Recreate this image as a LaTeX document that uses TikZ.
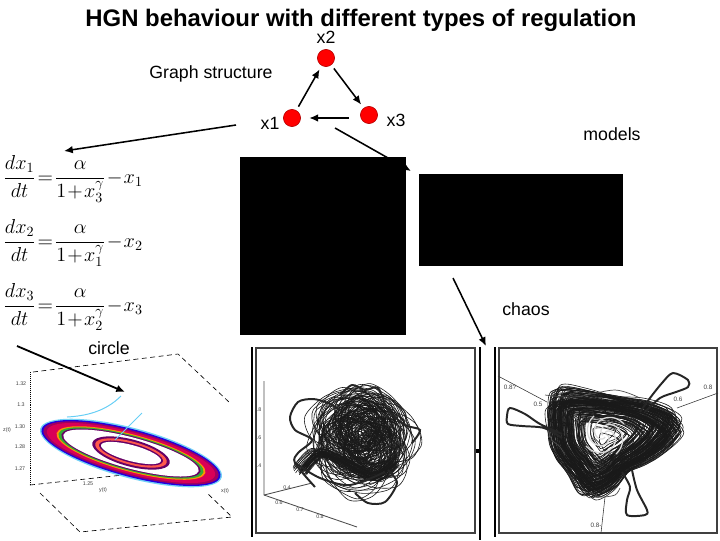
\documentclass[tikz,border=0pt]{standalone}
\usepackage{amsmath,amssymb}
\usepackage{fontspec}
\setmainfont{Liberation Sans}
\usepackage{tikz}
\usetikzlibrary{positioning,arrows.meta,shapes.geometric,calc}
\usepackage{xcolor}

\begin{document}
\begin{tikzpicture}[
  x=0.025cm, y=-0.025cm,
  gene/.style={draw=red!70!black, fill=red, circle, inner sep=0pt, minimum size=12.2pt},
  lbl/.style={font=\fontsize{12.6}{14}\selectfont, inner sep=0pt},
  arr/.style={-{Latex[length=2.2mm,width=1.9mm]}, line width=1.1pt},
  eqn/.style={font=\fontsize{13.6}{15}\selectfont, inner sep=0pt, anchor=west},
  blackbox/.style={fill=black, draw=none},
  frame/.style={draw=black!75, line width=0.9pt},
  tick/.style={font=\fontsize{3.8}{4}\selectfont, inner sep=0pt, text=black!75},
  axisdash/.style={line width=0.45pt, dash pattern=on 3.5pt off 2.5pt},
  tangle/.style={line width=0.42pt, black!90},
  lobe/.style={line width=1.4pt, black!85},
]
  \useasboundingbox (0,0) rectangle (720,540);
  \thickmuskip=1.5mu
  \medmuskip=1mu

  % title and labels
  \node[inner sep=0pt, font=\fontsize{17}{19}\selectfont\bfseries] (title) at (361,20) {HGN behaviour with different types of regulation};
  \node[lbl] (lx2) at (326,37) {x2};
  \node[lbl] (lgraph) at (211,74) {Graph structure};
  \node[lbl] (lx1) at (270,123) {x1};
  \node[lbl] (lx3) at (396,120) {x3};
  \node[lbl] (lmodels) at (612,134) {models};
  \node[lbl] (lchaos) at (526,309) {chaos};
  \node[lbl] (lcircle) at (109,348) {circle};

  % graph
  \node[gene] (x2) at (326,58) {};
  \node[gene] (x1) at (292,118) {};
  \node[gene] (x3) at (369,115) {};
  \draw[arr, shorten <=3pt, shorten >=3pt] (x1) -- (x2);
  \draw[arr, shorten <=3pt, shorten >=3pt] (x2) -- (x3);
  \draw[arr, shorten <=7.8pt, shorten >=6pt] (x3.west |- x1.east) -- (x1.east);

  % free arrows
  \coordinate (a1) at (236,125);
  \coordinate (b1) at (64,151);
  \coordinate (a2) at (335,128);
  \coordinate (b2) at (411,171);
  \coordinate (a3) at (453,278);
  \coordinate (b3) at (486,346);
  \coordinate (a4) at (17,346);
  \coordinate (b4) at (125,392);
  \draw[arr] (a1) -- (b1);
  \draw[arr] (a2) -- (b2);
  \draw[arr] (a3) -- (b3);

  % models
  \node[blackbox, minimum width=117.6pt, minimum height=126.2pt, inner sep=0pt] (m1) at (323,246) {};
  \node[blackbox, minimum width=144.6pt, minimum height=65.2pt, inner sep=0pt] (m2) at (521,220) {};

  % equations
  \node[eqn] (eq1) at (3,179) {$\dfrac{dx_1}{dt}=\dfrac{\alpha}{1+x_3^{\gamma}}-x_1$};
  \node[eqn] (eq2) at (3,243) {$\dfrac{dx_2}{dt}=\dfrac{\alpha}{1+x_1^{\gamma}}-x_2$};
  \node[eqn] (eq3) at (3,307) {$\dfrac{dx_3}{dt}=\dfrac{\alpha}{1+x_2^{\gamma}}-x_3$};

  % circle plot
  \draw[axisdash] (33,372) -- (178,354) -- (230,403);
  \draw[axisdash] (30,485) -- (123,475);
  \draw[axisdash] (40,493) -- (80,532) -- (232,517) -- (207,493);
  \draw[densely dotted, line width=0.4pt] (30,372) -- (30,485);
  \begin{scope}[shift={(131,453)}, rotate=-15]
    \fill[cyan!55] (0,0) ellipse [x radius=94, y radius=25];
    \fill[blue!75!violet] (0,0) ellipse [x radius=92.5, y radius=23.5];
    \fill[violet!75!red] (0,0) ellipse [x radius=90.5, y radius=22];
    \fill[red!60!magenta!85!black] (0,0) ellipse [x radius=87, y radius=20.5];
    \fill[orange!85!yellow] (0,0) ellipse [x radius=77, y radius=18.5];
    \fill[green!60!black!80] (0,0) ellipse [x radius=75, y radius=17.5];
    \fill[violet!80!black] (0,0) ellipse [x radius=72, y radius=16.5];
    \fill[white] (0,0) ellipse [x radius=70, y radius=15.5];
    \fill[violet!80!black] (0,0) ellipse [x radius=40, y radius=13.5];
    \fill[orange!70!magenta] (0,0) ellipse [x radius=37, y radius=11.5];
    \fill[violet!80!black] (0,0) ellipse [x radius=33, y radius=9.5];
    \fill[white] (0,0) ellipse [x radius=31, y radius=8];
  \end{scope}
  \draw[cyan!60, line width=0.7pt] (67,417) .. controls (85,416) and (105,412) .. (121,396);
  \draw[cyan!60, line width=0.7pt] (115,440) -- (142,413);
  \draw[arr, line width=1.3pt] (a4) -- (b4);
  \node[tick] (t1) at (21,384) {1.32};
  \node[tick] (t2) at (21,405) {1.3};
  \node[tick] (t3) at (20,427) {1.30};
  \node[tick] (t4) at (20,447) {1.28};
  \node[tick] (t5) at (20,469) {1.27};
  \node[tick] (t6) at (7,430) {z(t)};
  \node[tick] (t7) at (103,490) {y(t)};
  \node[tick] (t8) at (225,491) {x(t)};
  \node[tick] (t9) at (88,484) {1.25};

  % left chaos plot
  \draw[frame] (256,348) rectangle (475,533);
  \draw[line width=0.9pt] (252,347) -- (252,537);
  \draw[black!70, line width=0.6pt] (264,381) -- (264,495) -- (357,527);
  \draw[black!70, line width=0.6pt] (264,495) -- (312,483);
  \node[tick] at (259,410) {.8};
  \node[tick] at (259,438) {.6};
  \node[tick] at (259,466) {.4};
  \node[tick] at (287,488) {0.4};
  \node[tick] at (279,503) {0.6};
  \node[tick] at (300,510) {0.7};
  \node[tick] at (320,517) {0.8};
  \pgfmathsetseed{7}
  \foreach \k in {1,...,120} {
    \pgfmathsetmacro{\sc}{0.3+0.55*rnd}
    \pgfmathsetmacro{\ang}{rnd*360}
    \pgfmathsetmacro{\dx}{rnd*36-18}
    \pgfmathsetmacro{\dy}{rnd*36-18}
    \draw[tangle, shift={(365+\dx,437+\dy)}, scale=\sc, rotate=\ang]
      plot[smooth cycle] coordinates {(-58,-10) (-30,-38) (12,-48) (44,-24) (50,8) (22,30) (-22,32) (-50,18)};
  }
  \pgfmathsetseed{3}
  \foreach \k in {1,...,40} {
    \pgfmathsetmacro{\dx}{rnd*14-7}
    \pgfmathsetmacro{\dy}{rnd*10-5}
    \draw[tangle, shift={(\dx,\dy)}] plot[smooth] coordinates {(300,470) (318,452) (345,462) (372,476) (392,462)};
  }
  \draw[lobe] plot[smooth] coordinates {(315,487) (295,463) (298,453) (312,440) (295,430) (290,417) (298,402) (313,399) (328,403) (340,410)};
  \draw[lobe] plot[smooth] coordinates {(355,493) (368,503) (385,502) (397,483) (388,470)};
  \draw[lobe] plot[smooth] coordinates {(340,395) (352,385) (365,390) (378,388) (388,410) (405,425) (420,430) (412,443)};
  \draw[lobe] plot[smooth] coordinates {(295,463) (320,478) (350,485) (385,472)};

  % separator
  \draw[line width=0.9pt] (480,347) -- (480,540);
  \fill (475.5,448.5) rectangle (479,452.5);

  % right chaos plot
  \draw[frame] (499,348) rectangle (717,533);
  \draw[line width=0.9pt] (495,347) -- (495,537);
  \draw[black!80, line width=0.4pt] (498,376) -- (547,402);
  \draw[black!80, line width=0.4pt] (677,408) -- (718,393);
  \draw[black!80, line width=0.4pt] (605,497) -- (601,533);
  \node[tick, font=\fontsize{4.5}{5}\selectfont] at (510,387) {0.8?};
  \node[tick, font=\fontsize{4.5}{5}\selectfont] at (538,404) {0.5};
  \node[tick, font=\fontsize{4.5}{5}\selectfont] at (678,399) {0.6};
  \node[tick, font=\fontsize{4.5}{5}\selectfont] at (708,387) {0.8};
  \node[tick, font=\fontsize{4.5}{5}\selectfont] at (596,525) {0.8-};
  \pgfmathsetseed{11}
  \foreach \k in {1,...,140} {
    \pgfmathsetmacro{\sc}{0.15+0.88*sqrt(rnd)}
    \pgfmathsetmacro{\ang}{(rnd-0.5)*22}
    \pgfmathsetmacro{\dx}{rnd*8-4}
    \pgfmathsetmacro{\dy}{rnd*8-4}
    \draw[tangle, shift={(604+\dx,437+\dy)}, scale=\sc, rotate=\ang]
      plot[smooth cycle] coordinates {(-50,-40) (-25,-42) (10,-38) (48,-30) (76,-12) (52,16) (22,34) (6,50) (-14,58) (-28,40) (-48,14) (-52,-12)};
  }
  \foreach \k in {1,...,4} {
    \draw[line width=0.9pt, white!85!black, shift={(605,435)}, rotate=\k*90]
      plot[domain=0:240, samples=20, smooth] ({(2+\x/12)*cos(\x)}, {(2+\x/12)*sin(\x)});
  }
  \draw[lobe] plot[smooth] coordinates {(640,412) (650,398) (662,383) (673,373) (688,380) (688,387) (676,392) (660,398) (645,412)};
  \draw[lobe] plot[smooth] coordinates {(562,434) (540,424) (525,414) (510,408) (507,416) (508,424) (522,426) (544,428) (562,438)};
  \draw[lobe] plot[smooth] coordinates {(622,472) (630,487) (627,500) (627,515) (645,515) (647,510) (637,490) (632,470)};
  \draw[line width=0.5pt, black!70] plot[smooth] coordinates {(545,395) (575,397) (615,390) (640,398)};
  \draw[line width=0.5pt, black!70] plot[smooth] coordinates {(548,430) (552,440) (560,447) (565,455)};
  \draw[line width=0.5pt, black!70] plot[smooth] coordinates {(590,492) (600,497) (615,495) (620,488)};
\end{tikzpicture}
\end{document}
